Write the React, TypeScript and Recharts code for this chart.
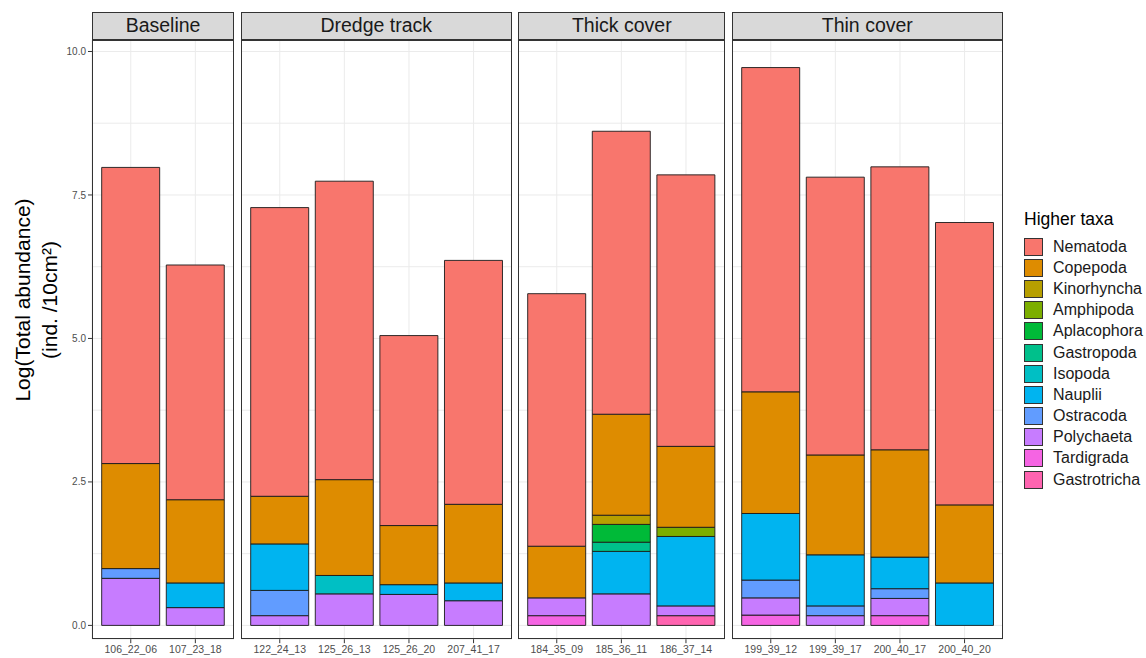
import { BarChart, Bar, XAxis, YAxis, CartesianGrid } from 'recharts'

const FACETS = ['Baseline', 'Dredge track', 'Thick cover', 'Thin cover']

const SITES = [
  '106_22_06', '107_23_18',
  '122_24_13', '125_26_13', '125_26_20', '207_41_17',
  '184_35_09', '185_36_11', '186_37_14',
  '199_39_12', '199_39_17', '200_40_17', '200_40_20',
]
const SITE_FACET = [
  'Baseline', 'Baseline',
  'Dredge track', 'Dredge track', 'Dredge track', 'Dredge track',
  'Thick cover', 'Thick cover', 'Thick cover',
  'Thin cover', 'Thin cover', 'Thin cover', 'Thin cover',
]

const TAXA = [
  'Nematoda', 'Copepoda', 'Kinorhyncha', 'Amphipoda', 'Aplacophora', 'Gastropoda',
  'Isopoda', 'Nauplii', 'Ostracoda', 'Polychaeta', 'Tardigrada', 'Gastrotricha',
]
const COLORS = [
  '#F8766D', '#DE8C00', '#B79F00', '#7CAE00', '#00BA38', '#00C08B',
  '#00BFC4', '#00B4F0', '#619CFF', '#C77CFF', '#F564E3', '#FF64B0',
]

// log abundance per taxon, one value per site (same order as SITES)
const NEMATODA = [5.16, 4.09, 5.03, 5.2, 3.31, 4.25, 4.4, 4.93, 4.73, 5.65, 4.84, 4.93, 4.92]
const COPEPODA = [1.83, 1.45, 0.83, 1.67, 1.03, 1.37, 0.9, 1.76, 1.41, 2.12, 1.74, 1.87, 1.36]
const KINORHYNCHA = [0, 0, 0, 0, 0, 0, 0, 0.16, 0, 0, 0, 0, 0]
const AMPHIPODA = [0, 0, 0, 0, 0, 0, 0, 0, 0.16, 0, 0, 0, 0]
const APLACOPHORA = [0, 0, 0, 0, 0, 0, 0, 0.31, 0, 0, 0, 0, 0]
const GASTROPODA = [0, 0, 0, 0, 0, 0, 0, 0.16, 0, 0, 0, 0, 0]
const ISOPODA = [0, 0, 0, 0.32, 0, 0, 0, 0, 0, 0, 0, 0, 0]
const NAUPLII = [0, 0.43, 0.81, 0, 0.17, 0.31, 0, 0.74, 1.21, 1.16, 0.89, 0.55, 0.74]
const OSTRACODA = [0.17, 0, 0.44, 0, 0, 0, 0, 0, 0, 0.31, 0.17, 0.17, 0]
const POLYCHAETA = [0.82, 0.31, 0.17, 0.55, 0.54, 0.43, 0.31, 0.55, 0.17, 0.3, 0.17, 0.3, 0]
const TARDIGRADA = [0, 0, 0, 0, 0, 0, 0.17, 0, 0, 0.18, 0, 0.17, 0]
const GASTROTRICHA = [0, 0, 0, 0, 0, 0, 0, 0, 0.17, 0, 0, 0, 0]

const Y_TICKS = [0, 2.5, 5, 7.5, 10]
const GRID_TICKS = [0, 1.25, 2.5, 3.75, 5, 6.25, 7.5, 8.75, 10]

const SERIES: Record<string, number[]> = {
  Nematoda: NEMATODA,
  Copepoda: COPEPODA,
  Kinorhyncha: KINORHYNCHA,
  Amphipoda: AMPHIPODA,
  Aplacophora: APLACOPHORA,
  Gastropoda: GASTROPODA,
  Isopoda: ISOPODA,
  Nauplii: NAUPLII,
  Ostracoda: OSTRACODA,
  Polychaeta: POLYCHAETA,
  Tardigrada: TARDIGRADA,
  Gastrotricha: GASTROTRICHA,
}

const rows = SITES.map((site, i) => {
  const row: Record<string, string | number> = { site, facet: SITE_FACET[i] }
  TAXA.forEach((t) => (row[t] = SERIES[t][i]))
  return row
})

const FONT = '"Liberation Sans", Arial, Helvetica, sans-serif'
const UNIT = 64.6
const PANEL_X0 = 92
const GAP = 6.5
const STRIP_TOP = 12
const PLOT_TOP = 39.5
const PLOT_H = 599.2
const Y_AXIS_W = 40
const X_AXIS_H = 22
const DOMAIN: [number, number] = [-0.24, 10.2]

function Panel({ facet, left, first }: { facet: string; left: number; first: boolean }) {
  const data = rows.filter((r) => r.facet === facet)
  const w = (data.length + 0.2) * UNIT
  const yw = first ? Y_AXIS_W : 0
  return (
    <>
      <div
        style={{
          position: 'absolute', left, top: STRIP_TOP, width: w, height: PLOT_TOP - STRIP_TOP,
          background: '#D9D9D9', border: '1px solid #333', boxSizing: 'border-box',
          display: 'flex', alignItems: 'center', justifyContent: 'center',
          fontSize: 19.5, color: '#1A1A1A', fontFamily: FONT,
        }}
      >
        {facet}
      </div>
      <div style={{ position: 'absolute', left: left - yw, top: PLOT_TOP }}>
        <BarChart
          width={w + yw}
          height={PLOT_H + X_AXIS_H}
          data={data}
          margin={{ top: 0, right: 0, bottom: 0, left: 0 }}
          barCategoryGap="5%"
        >
          <CartesianGrid stroke="#EBEBEB" yAxisId="grid" />
          <XAxis
            dataKey="site"
            interval={0}
            padding={{ left: UNIT * 0.1, right: UNIT * 0.1 }}
            height={X_AXIS_H}
            axisLine={false}
            tickSize={4}
            tickLine={{ stroke: '#333' }}
            tick={{ fontSize: 10.5, fill: '#4D4D4D', fontFamily: FONT }}
          />
          <YAxis
            type="number"
            domain={DOMAIN}
            allowDataOverflow
            ticks={Y_TICKS}
            tickFormatter={(v: number) => v.toFixed(1)}
            hide={!first}
            width={Y_AXIS_W}
            axisLine={false}
            tickSize={4}
            tickLine={{ stroke: '#333' }}
            tick={{ fontSize: 10, fill: '#4D4D4D', fontFamily: FONT }}
          />
          <YAxis yAxisId="grid" type="number" domain={DOMAIN} allowDataOverflow ticks={GRID_TICKS} hide />
          {[...TAXA].reverse().map((t) => (
            <Bar
              key={t}
              dataKey={t}
              stackId="a"
              fill={COLORS[TAXA.indexOf(t)]}
              stroke="#1A1A1A"
              strokeWidth={0.9}
              isAnimationActive={false}
            />
          ))}
        </BarChart>
      </div>
      <div
        style={{
          position: 'absolute', left, top: PLOT_TOP, width: w, height: PLOT_H,
          border: '1px solid #333', boxSizing: 'border-box', pointerEvents: 'none',
        }}
      />
    </>
  )
}

export default function App() {
  let x = PANEL_X0
  const panels = FACETS.map((f, i) => {
    const n = SITE_FACET.filter((s) => s === f).length
    const left = x
    x += (n + 0.2) * UNIT + GAP
    return <Panel key={f} facet={f} left={left} first={i === 0} />
  })

  return (
    <div style={{ position: 'absolute', left: 0, top: 0, width: 1146, height: 658, background: '#fff', fontFamily: FONT }}>
      {panels}
      <div
        style={{
          position: 'absolute', left: 37 - 160, top: 300 - 28, width: 320, height: 56,
          transform: 'rotate(-90deg)', textAlign: 'center', fontSize: 21, lineHeight: '27px', color: '#000',
        }}
      >
        <div>Log(Total abundance)</div>
        <div>(ind. /10cm²)</div>
      </div>
      <div style={{ position: 'absolute', left: 1024, top: 206 }}>
        <div style={{ fontSize: 17.5, lineHeight: '26px', color: '#000' }}>Higher taxa</div>
        <div style={{ marginTop: 4 }}>
          {TAXA.map((t, i) => (
            <div key={t} style={{ display: 'flex', alignItems: 'center', height: 21.2 }}>
              <div
                style={{
                  width: 19, height: 18, background: COLORS[i], border: '1px solid #333',
                  boxSizing: 'border-box',
                }}
              />
              <span style={{ marginLeft: 10, fontSize: 16, color: '#1A1A1A' }}>{t}</span>
            </div>
          ))}
        </div>
      </div>
    </div>
  )
}
